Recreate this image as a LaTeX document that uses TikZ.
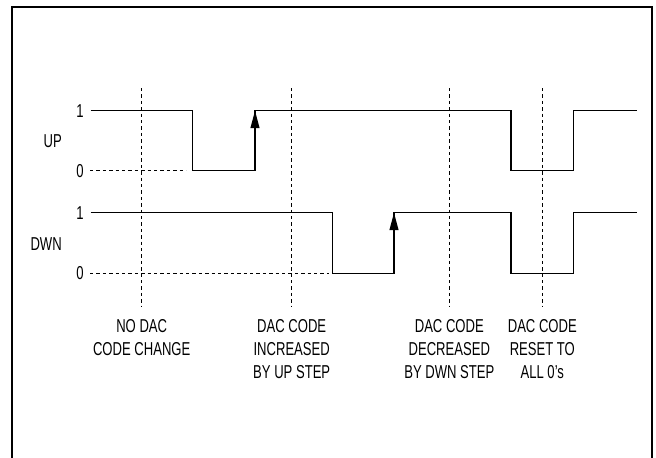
\documentclass[tikz,border=0pt]{standalone}
\usepackage{fontspec}
\setmainfont{Liberation Sans}[FakeStretch=0.7]
\usepackage{tikz}
\usetikzlibrary{arrows.meta}

\tikzset{
  lvl/.style={anchor=east,inner sep=0pt},
  grid/.style={dash pattern=on 2.6pt off 2.2pt,line width=0.6pt},
  sig/.style={line width=1.1pt},
  note/.style={anchor=north,align=center,inner sep=0pt},
  edge/.style={-{Triangle[length=13pt,width=6.6pt]},line width=1.1pt}
}

\begin{document}
\begin{tikzpicture}[x=0.75pt,y=-0.75pt,font=\fontsize{14}{17.3}\selectfont]
				\useasboundingbox (0,0) rectangle (656,457);
				\draw[line width=1.5pt] (12,458) -- (12,7) -- (652,7) -- (652,458);
				\node[lvl] (uphi) at (84,110.7) {1};
				\node[lvl] (uplo) at (84,170.7) {0};
				\node[lvl] (uplab) at (62,141) {UP};
				\node[lvl] (dnhi) at (84,212.7) {1};
				\node[lvl] (dnlo) at (84,273.3) {0};
				\node[lvl] (dnlab) at (62,244) {DWN};
				\draw[grid] (uplo.east) ++(6,0) -- (186,170.7);
				\draw[grid] (dnlo.east) ++(6,0) -- (329,273.3);
				\foreach \x/\n in {141.7/a,291.7/b,449.3/c,542.3/d}
					\draw[grid] (\x,88) coordinate (top\n) -- (\x,307) coordinate (bot\n);
				\draw[sig] (90.7,110.7) -- (192.7,110.7) -- (192.7,170.7) -- (255,170.7) -- (255,110.7)
					-- (511,110.7) -- (511,170.7) -- (573.3,170.7) -- (573.3,110.7) -- (637.3,110.7);
				\draw[sig] (90.7,212.7) -- (332.3,212.7) -- (332.3,273.3) -- (394,273.3) -- (394,212.7)
					-- (511,212.7) -- (511,273.3) -- (573.3,273.3) -- (573.3,212.7) -- (637.3,212.7);
				\draw[edge] (255,150) -- (255,110.7);
				\draw[edge] (394,250) -- (394,212.7);
				\node[note] (capa) at (141.7,319) {NO DAC\\CODE CHANGE};
				\node[note] (capb) at (291.7,319) {DAC CODE\\INCREASED\\BY UP STEP};
				\node[note] (capc) at (449.3,319) {DAC CODE\\DECREASED\\BY DWN STEP};
				\node[note] (capd) at (542.3,319) {DAC CODE\\RESET TO\\ALL 0's};
			\end{tikzpicture}
\end{document}
